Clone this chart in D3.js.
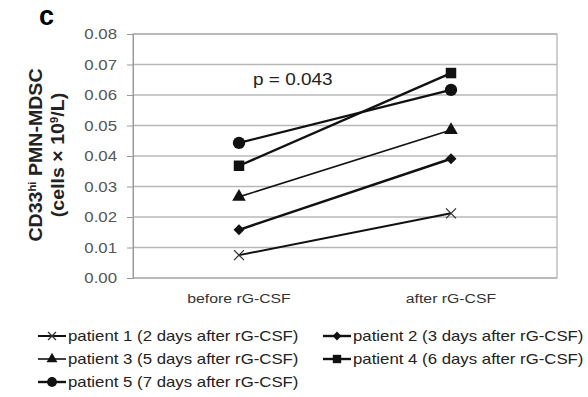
<!DOCTYPE html>
<html>
<head>
<meta charset="utf-8">
<script src="https://cdn.jsdelivr.net/npm/d3@7"></script>
<style>
  body { margin: 0; background: #fff; }
  svg { font-family: "Liberation Sans", Arial, sans-serif; }
</style>
</head>
<body>
<div id="chart"></div>
<script>
// data
const categories = ['before rG-CSF', 'after rG-CSF'];
const patients = [
  'patient 1 (2 days after rG-CSF)',
  'patient 2 (3 days after rG-CSF)',
  'patient 3 (5 days after rG-CSF)',
  'patient 4 (6 days after rG-CSF)',
  'patient 5 (7 days after rG-CSF)'
];
const beforeValues = [0.0075, 0.0158, 0.0266, 0.0368, 0.0443];
const afterValues = [0.0212, 0.0391, 0.0485, 0.0672, 0.0617];
const yTicks = [0, 0.01, 0.02, 0.03, 0.04, 0.05, 0.06, 0.07, 0.08];
const markers = ['cross', 'diamond', 'triangle', 'square', 'circle'];
const lineWidths = [2, 2.4, 1.6, 2.4, 2.4];

const width = 588, height = 397;
const margin = { top: 34, right: 31, bottom: 119, left: 133 };

const svg = d3.select('#chart').append('svg')
  .attr('width', width)
  .attr('height', height);

const x = d3.scaleBand().domain(categories)
  .range([margin.left, width - margin.right]);
const y = d3.scaleLinear().domain([0, 0.08])
  .range([height - margin.bottom, margin.top]);

// text placed at (tx, ty) and stretched horizontally (the source text is wide)
function wideText(tx, ty, size, s) {
  return svg.append('text')
    .attr('transform', 'translate(' + tx + ',' + ty + ') scale(' + s + ',1)')
    .attr('font-size', size);
}

// gridlines
svg.append('g')
  .selectAll('line').data(yTicks).enter().append('line')
  .attr('x1', margin.left).attr('x2', width - margin.right)
  .attr('y1', d => y(d)).attr('y2', d => y(d))
  .attr('stroke', '#b8b8b8').attr('stroke-width', 1.3);

// plot border
svg.append('rect')
  .attr('x', margin.left).attr('y', margin.top)
  .attr('width', width - margin.left - margin.right)
  .attr('height', y(0) - margin.top)
  .attr('fill', 'none').attr('stroke', '#b0b0b0').attr('stroke-width', 1.2);

// y axis
const yAxis = svg.append('g')
  .attr('transform', 'translate(' + margin.left + ',0)')
  .call(d3.axisLeft(y).tickValues(yTicks).tickFormat(d3.format('.2f')).tickSize(6).tickPadding(5));
yAxis.select('.domain').attr('stroke', '#999');
yAxis.selectAll('.tick line').attr('stroke', '#999');
yAxis.selectAll('.tick text').remove();
yTicks.forEach(t => {
  wideText(margin.left - 16, y(t) + 5, 14, 1.2)
    .attr('text-anchor', 'end').attr('fill', '#555')
    .text(d3.format('.2f')(t));
});

// x labels
categories.forEach(c => {
  wideText(x(c) + x.bandwidth() / 2, 303, 13.5, 1.17)
    .attr('text-anchor', 'middle').attr('fill', '#333')
    .text(c);
});

// panel letter
svg.append('text').attr('x', 39).attr('y', 25)
  .attr('font-size', 27).attr('font-weight', 'bold').text('c');

// y axis title
const yTitle = svg.append('text')
  .attr('transform', 'translate(42,155) rotate(-90) scale(1.12,1)')
  .attr('text-anchor', 'middle')
  .attr('font-size', 17.5).attr('font-weight', 'bold').attr('fill', '#222');
yTitle.append('tspan').text('CD33');
yTitle.append('tspan').attr('font-size', 10).attr('dy', -6).text('hi');
yTitle.append('tspan').attr('dy', 6).text(' PMN-MDSC');
const yTitle2 = svg.append('text')
  .attr('transform', 'translate(64,155) rotate(-90) scale(1.12,1)')
  .attr('text-anchor', 'middle')
  .attr('font-size', 17.5).attr('font-weight', 'bold').attr('fill', '#222');
yTitle2.append('tspan').text('(cells \u00d7 10');
yTitle2.append('tspan').attr('font-size', 10).attr('dy', -6).text('9');
yTitle2.append('tspan').attr('dy', 6).text('/L)');

// p value
wideText(253, 85, 16.5, 1.15).attr('fill', '#222').text('p = 0.043');

function drawMarker(g, type, cx, cy, s) {
  if (type === 'cross') {
    const r = 5 * s;
    g.append('path')
      .attr('d', 'M' + (cx - r) + ',' + (cy - r) + 'L' + (cx + r) + ',' + (cy + r) +
        'M' + (cx - r) + ',' + (cy + r) + 'L' + (cx + r) + ',' + (cy - r))
      .attr('stroke', '#333').attr('stroke-width', 1.3).attr('fill', 'none');
  } else if (type === 'diamond') {
    const r = 5.5 * s;
    g.append('path')
      .attr('d', 'M' + cx + ',' + (cy - r) + 'L' + (cx + r) + ',' + cy +
        'L' + cx + ',' + (cy + r) + 'L' + (cx - r) + ',' + cy + 'Z')
      .attr('fill', '#111');
  } else {
    const sym = { triangle: d3.symbolTriangle, square: d3.symbolSquare, circle: d3.symbolCircle }[type];
    const size = { triangle: 80, square: 110, circle: 120 }[type] * s * s;
    g.append('path')
      .attr('transform', 'translate(' + cx + ',' + cy + ')')
      .attr('d', d3.symbol().type(sym).size(size)())
      .attr('fill', '#111');
  }
}

// series
const cx = d => x(d) + x.bandwidth() / 2;
patients.forEach((p, i) => {
  const pts = [[cx(categories[0]), y(beforeValues[i])], [cx(categories[1]), y(afterValues[i])]];
  const g = svg.append('g');
  g.append('path').attr('d', d3.line()(pts))
    .attr('stroke', '#111').attr('stroke-width', lineWidths[i]).attr('fill', 'none');
  pts.forEach(pt => drawMarker(g, markers[i], pt[0], pt[1], 1));
});

// legend
const legX = [38, 323];
const legY = [336, 359, 382];
patients.forEach((p, i) => {
  const lx = legX[i % 2], ly = legY[Math.floor(i / 2)];
  const g = svg.append('g');
  g.append('line').attr('x1', lx).attr('x2', lx + 28).attr('y1', ly).attr('y2', ly)
    .attr('stroke', '#111').attr('stroke-width', lineWidths[i]);
  drawMarker(g, markers[i], lx + 14, ly, 0.8);
  wideText(lx + 30, ly + 5, 14, 1.2).attr('fill', '#222').text(p);
});
</script>
</body>
</html>
